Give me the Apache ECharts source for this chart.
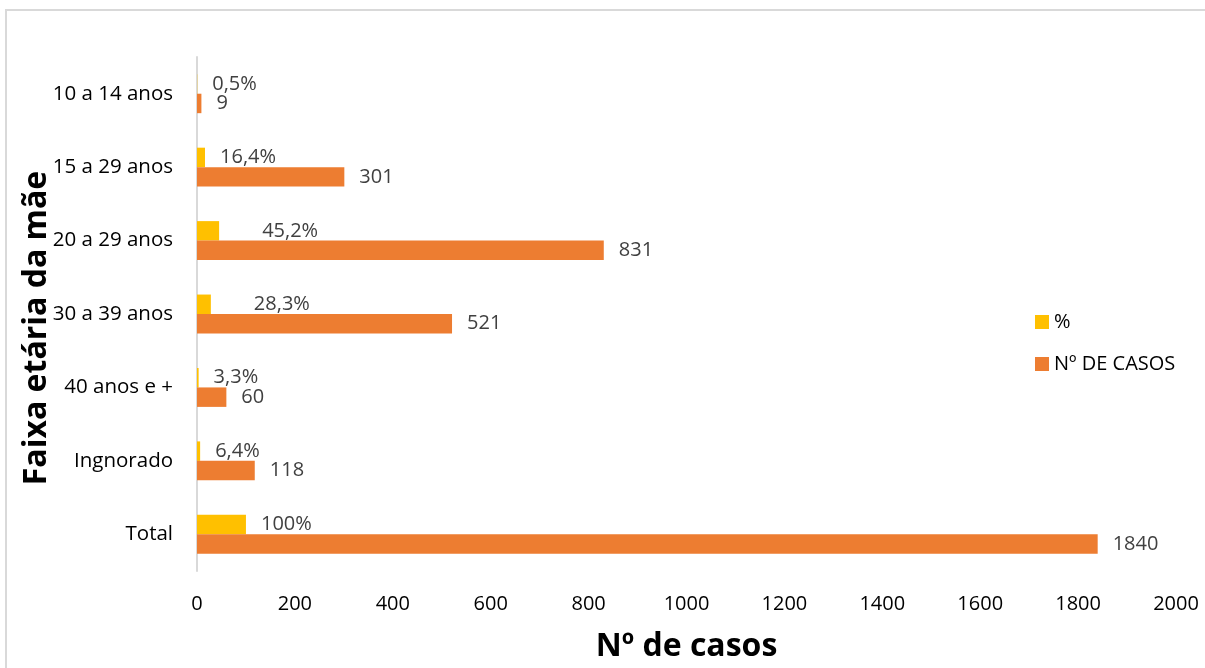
<!DOCTYPE html>
<html>
<head>
<meta charset="utf-8">
<script src="https://cdn.jsdelivr.net/npm/echarts@6/dist/echarts.min.js"></script>
<style>
  html, body { margin: 0; padding: 0; background: #fff; }
  #chart { width: 1205px; height: 668px; }
</style>
</head>
<body>
<div id="chart"></div>
<script>
// Age groups of the mother, top to bottom
const categories = ['10 a 14 anos', '15 a 29 anos', '20 a 29 anos', '30 a 39 anos', '40 anos e +', 'Ingnorado', 'Total'];
// Share of cases (%)
const percentValues = [0.5, 16.4, 45.2, 28.3, 3.3, 6.4, 100];
// Number of cases
const caseCounts = [9, 301, 831, 521, 60, 118, 1840];
// Value axis ticks
const axisMin = 0;
const axisMax = 2000;
const axisStep = 200;

const FONT = '"Open Sans", "Noto Sans", sans-serif';

// A couple of percent labels sit further from their bars
const percentLabelShift = { '20 a 29 anos': 28, '30 a 39 anos': 28 };

const chart = echarts.init(document.getElementById('chart'), null, { renderer: 'canvas' });

const percentData = percentValues.map((v, i) => {
  const shift = percentLabelShift[categories[i]];
  return shift ? { value: v, label: { offset: [shift, 0] } } : v;
});

chart.setOption({
  animation: false,
  backgroundColor: '#ffffff',
  textStyle: { fontFamily: FONT },
  graphic: [
    {
      type: 'rect',
      shape: { x: 6, y: 10, width: 1260, height: 720 },
      style: { fill: 'none', stroke: '#d9d9d9', lineWidth: 2 },
      silent: true
    },
    {
      type: 'text',
      x: 37,
      y: 328,
      rotation: Math.PI / 2,
      style: {
        text: 'Faixa etária da mãe',
        fontFamily: FONT,
        fontWeight: 'bold',
        fontSize: 32,
        fill: '#000000',
        align: 'center',
        verticalAlign: 'middle'
      }
    }
  ],
  legend: {
    orient: 'vertical',
    left: 1030,
    top: 307,
    itemWidth: 14,
    itemHeight: 14,
    itemGap: 22,
    icon: 'rect',
    textStyle: { fontFamily: FONT, fontSize: 20, color: '#000000' },
    data: ['%', 'Nº DE CASOS']
  },
  grid: {
    left: 197,
    right: 29,
    top: 57,
    bottom: 95,
    containLabel: false
  },
  xAxis: {
    type: 'value',
    min: axisMin,
    max: axisMax,
    interval: axisStep,
    name: 'Nº de casos',
    nameLocation: 'middle',
    nameGap: 60,
    nameTextStyle: { fontFamily: FONT, fontWeight: 'bold', fontSize: 32, color: '#000000' },
    axisLine: { show: false },
    axisTick: { show: false },
    splitLine: { show: false },
    axisLabel: {
      fontFamily: FONT,
      fontSize: 20,
      color: '#000000',
      margin: 23,
      formatter: v => String(v)
    }
  },
  yAxis: {
    type: 'category',
    data: categories,
    inverse: true,
    axisLine: { show: true, lineStyle: { color: '#d9d9d9', width: 2 } },
    axisTick: { show: false },
    axisLabel: { fontFamily: FONT, fontSize: 20.5, color: '#000000', margin: 24 }
  },
  series: [
    {
      name: '%',
      type: 'bar',
      data: percentData,
      barGap: '0%',
      barCategoryGap: '47%',
      itemStyle: { color: '#FFC000' },
      label: {
        show: true,
        position: 'right',
        distance: 15,
        fontFamily: FONT,
        fontSize: 20,
        color: '#404040',
        formatter: p => String(p.value).replace('.', ',') + '%'
      }
    },
    {
      name: 'Nº DE CASOS',
      type: 'bar',
      data: caseCounts,
      barGap: '0%',
      barCategoryGap: '47%',
      itemStyle: { color: '#ED7D31' },
      label: {
        show: true,
        position: 'right',
        distance: 15,
        fontFamily: FONT,
        fontSize: 20,
        color: '#404040'
      }
    }
  ]
});
</script>
</body>
</html>
